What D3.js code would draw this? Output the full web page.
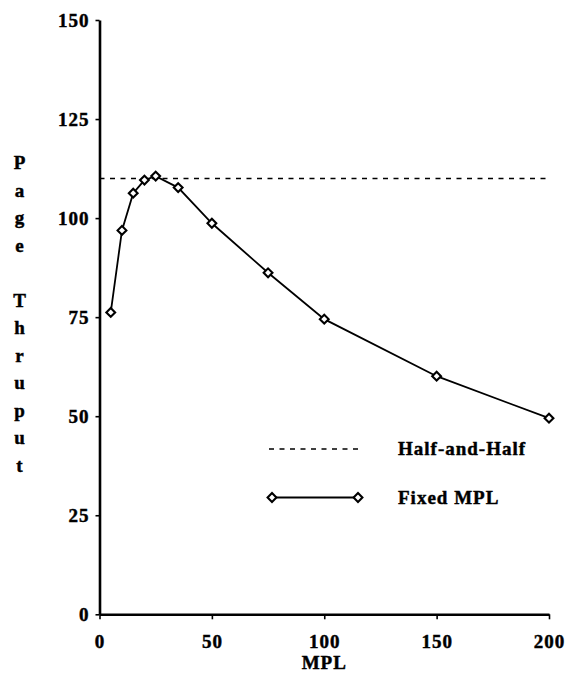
<!DOCTYPE html>
<html>
<head>
<meta charset="utf-8">
<script src="https://cdn.jsdelivr.net/npm/d3@7"></script>
<style>
  html, body { margin: 0; padding: 0; background: #fff; }
  svg { display: block; }
  text { font-family: "Liberation Serif", "Times New Roman", serif; font-weight: bold; fill: #000; stroke: #000; stroke-width: 0.45px; }
</style>
</head>
<body>
<div id="chart"></div>
<script>
// Multiprogramming level (x) and page throughput for the fixed-MPL policy
const mplLevels = [5, 10, 15, 20, 25, 35, 50, 75, 100, 150, 200];
const fixedMplThrupt = [76.2, 96.9, 106.3, 109.6, 110.6, 107.7, 98.7, 86.2, 74.5, 60.1, 49.5];
// Half-and-Half policy throughput (constant across MPL)
const halfAndHalfThrupt = 110;

const xTicks = [0, 50, 100, 150, 200];
const yTicks = [0, 25, 50, 75, 100, 125, 150];
const yLabelText = "Page Thruput";
const legendLabels = ["Half-and-Half", "Fixed MPL"];

const W = 568, H = 675;
const svg = d3.select("#chart").append("svg").attr("width", W).attr("height", H);

const x = d3.scaleLinear().domain([0, 200]).range([99.5, 549]);
const y = d3.scaleLinear().domain([0, 150]).range([614.3, 20]);

const fontSize = 19;

// Y axis
const yAxis = svg.append("g")
  .attr("transform", `translate(${x(0)},0)`)
  .call(d3.axisLeft(y).tickValues(yTicks).tickSize(4).tickSizeOuter(0).tickPadding(6));
yAxis.select(".domain").attr("stroke", "#000").attr("stroke-width", 2.6);
yAxis.selectAll(".tick line").attr("stroke", "#000").attr("stroke-width", 1.6);
yAxis.selectAll(".tick text")
  .attr("font-size", fontSize).style("letter-spacing", "1px")
  .attr("dy", "0.34em");
yAxis.attr("font-family", null).attr("font-size", null);

// X axis
const xAxis = svg.append("g")
  .attr("transform", `translate(0,${y(0)})`)
  .call(d3.axisBottom(x).tickValues(xTicks).tickSize(5).tickSizeOuter(0).tickPadding(15.5));
xAxis.select(".domain").attr("stroke", "#000").attr("stroke-width", 2.6);
xAxis.selectAll(".tick line").attr("stroke", "#000").attr("stroke-width", 1.6);
xAxis.selectAll(".tick text")
  .attr("font-size", fontSize).style("letter-spacing", "1px");
xAxis.attr("font-family", null).attr("font-size", null);

// X axis title
svg.append("text")
  .attr("x", (x(0) + x(200)) / 2).attr("y", 669)
  .attr("text-anchor", "middle").attr("font-size", fontSize)
  .style("letter-spacing", "1px")
  .text("MPL");

// Y axis title, one letter per line
const chars = Array.from(yLabelText);
svg.append("g").selectAll("text")
  .data(chars)
  .join("text")
  .attr("x", 19.5)
  .attr("y", (d, i) => 169 + i * 27.5)
  .attr("text-anchor", "middle")
  .attr("font-size", fontSize)
  .text(d => d);

// Half-and-Half reference line
svg.append("line")
  .attr("x1", x(0)).attr("x2", x(200))
  .attr("y1", y(halfAndHalfThrupt)).attr("y2", y(halfAndHalfThrupt))
  .attr("stroke", "#000").attr("stroke-width", 1.4)
  .attr("stroke-dasharray", "5,5.5");

// Fixed MPL series
const pts = mplLevels.map((m, i) => [m, fixedMplThrupt[i]]);
svg.append("path")
  .datum(pts)
  .attr("fill", "none").attr("stroke", "#000").attr("stroke-width", 1.8)
  .attr("d", d3.line().x(d => x(d[0])).y(d => y(d[1])));

const diamond = "M0,-4.4L4.4,0L0,4.4L-4.4,0Z";
svg.append("g").selectAll("path")
  .data(pts)
  .join("path")
  .attr("d", diamond)
  .attr("transform", d => `translate(${x(d[0])},${y(d[1])})`)
  .attr("fill", "#fff").attr("stroke", "#000").attr("stroke-width", 2.1);

// Legend
const legend = svg.append("g");
legend.append("line")
  .attr("x1", 269).attr("x2", 361).attr("y1", 449).attr("y2", 449)
  .attr("stroke", "#000").attr("stroke-width", 1.4)
  .attr("stroke-dasharray", "5,5.5");
legend.append("text")
  .attr("x", 398).attr("y", 455)
  .attr("font-size", fontSize).style("letter-spacing", "1px")
  .text(legendLabels[0]);

legend.append("line")
  .attr("x1", 272).attr("x2", 358).attr("y1", 497.5).attr("y2", 497.5)
  .attr("stroke", "#000").attr("stroke-width", 1.8);
legend.selectAll("path.mk")
  .data([272, 358])
  .join("path")
  .attr("class", "mk")
  .attr("d", diamond)
  .attr("transform", d => `translate(${d},497.5)`)
  .attr("fill", "#fff").attr("stroke", "#000").attr("stroke-width", 2.1);
legend.append("text")
  .attr("x", 398).attr("y", 503.5)
  .attr("font-size", fontSize).style("letter-spacing", "1px")
  .text(legendLabels[1]);
</script>
</body>
</html>
